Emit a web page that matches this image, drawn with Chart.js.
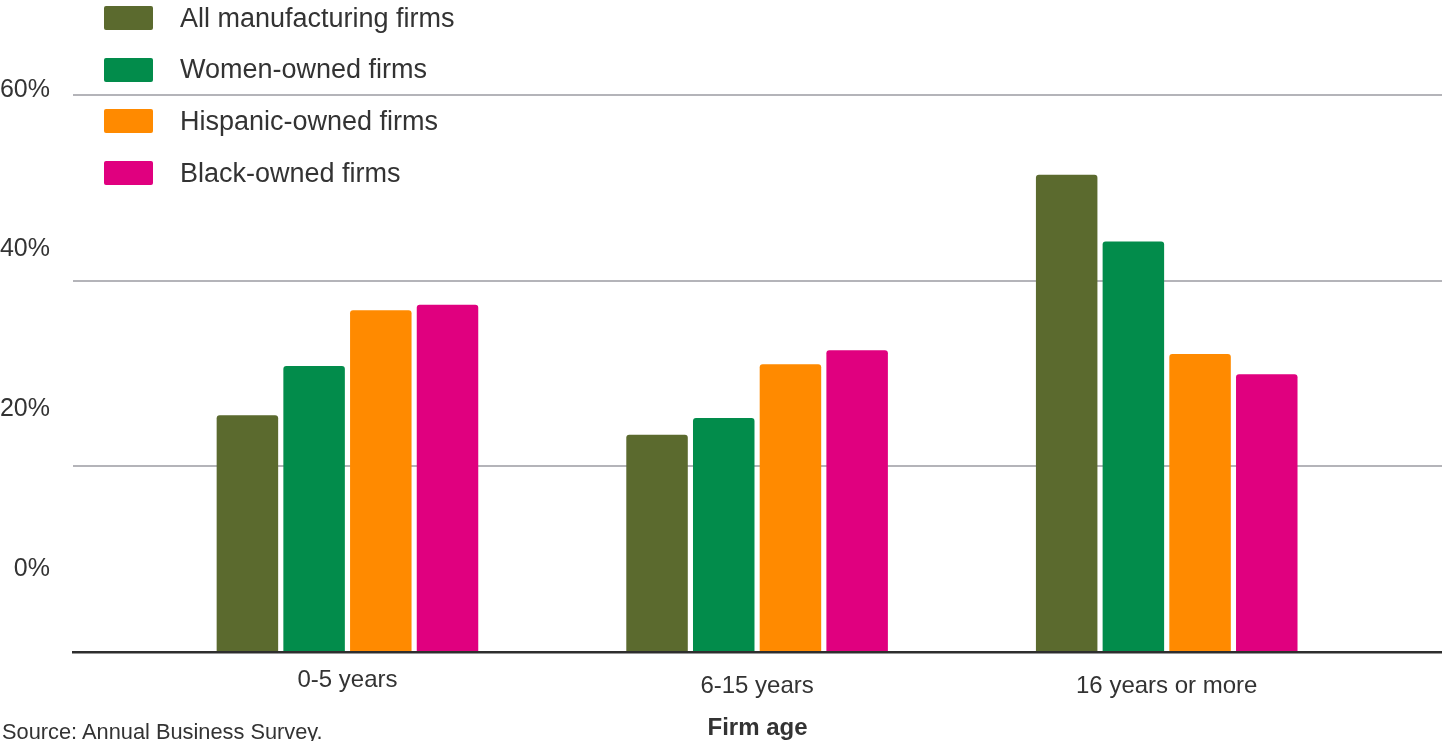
<!DOCTYPE html>
<html>
<head>
<meta charset="utf-8">
<script src="https://cdn.jsdelivr.net/npm/chart.js@4.4.1/dist/chart.umd.min.js"></script>
<style>
  html, body { margin: 0; padding: 0; background: #ffffff; overflow: hidden; }
  #wrap { position: relative; width: 1442px; height: 741px; }
  #c { position: absolute; left: 0; top: 0; }
  #legend { position: absolute; left: 104px; top: 6px; font-family: "Liberation Sans", Arial, Helvetica, sans-serif; font-size: 27px; color: #333333; }
  .item { position: absolute; left: 0; height: 24px; display: flex; align-items: center; white-space: nowrap; }
  .box { width: 49px; height: 24px; border-radius: 2px; margin-right: 27px; flex: none; }
  #source { position: absolute; left: 2px; top: 721px; font: 21.8px/22px "Liberation Sans", Arial, Helvetica, sans-serif; color: #333333; white-space: nowrap; }
</style>
</head>
<body>
<div id="wrap">
  <canvas id="c" width="1442" height="741"></canvas>
  <div id="legend"></div>
  <div id="source">Source: Annual Business Survey.</div>
</div>
<script>
// ---- Data ----
const categories = ['0-5 years', '6-15 years', '16 years or more'];
const seriesNames = ['All manufacturing firms', 'Women-owned firms', 'Hispanic-owned firms', 'Black-owned firms'];
const allManufacturing = [25.5, 23.4, 51.4];
const womenOwned = [30.8, 25.2, 44.2];
const hispanicOwned = [36.8, 31.0, 32.1];
const blackOwned = [37.4, 32.5, 29.9];
const yTickValues = [0, 20, 40, 60];
const axisTitle = 'Firm age';

// ---- Styles ----
const seriesColors = ['#5b6a2e', '#028c4b', '#ff8a00', '#e0007f'];
const FONT = '"Liberation Sans", Arial, Helvetica, sans-serif';
const TEXT = '#333333';
const X_MIN = -0.670, X_MAX = 2.672;

const seriesValues = [allManufacturing, womenOwned, hispanicOwned, blackOwned];

// HTML legend built from the series arrays
const legendEl = document.getElementById('legend');
seriesNames.forEach((name, i) => {
  const item = document.createElement('div');
  item.className = 'item';
  item.style.top = (i * 51.7) + 'px';
  const box = document.createElement('span');
  box.className = 'box';
  box.style.background = seriesColors[i];
  const txt = document.createElement('span');
  txt.textContent = name;
  item.appendChild(box);
  item.appendChild(txt);
  legendEl.appendChild(item);
});

const datasets = seriesNames.map((name, s) => ({
  label: name,
  data: seriesValues[s].map((v, i) => ({ x: i, y: v })),
  backgroundColor: seriesColors[s],
  borderRadius: { topLeft: 3, topRight: 3, bottomLeft: 0, bottomRight: 0 },
  categoryPercentage: 0.6513,
  barPercentage: 0.922,
  xAxisID: 'x',
  yAxisID: 'y'
}));

function noPadX(s, h) { s.height = h; s.paddingLeft = 0; s.paddingRight = 0; }
function noPadY(s, w) { s.width = w; s.paddingTop = 0; s.paddingBottom = 0; }

new Chart(document.getElementById('c'), {
  type: 'bar',
  data: { datasets },
  options: {
    responsive: false,
    animation: false,
    layout: { padding: { top: 2, left: 0, right: 0, bottom: 0 } },
    plugins: { legend: { display: false }, tooltip: { enabled: false } },
    scales: {
      x: {
        type: 'linear', position: 'bottom', weight: 1,
        min: X_MIN, max: X_MAX, offset: false,
        grid: { display: false, offset: false, drawTicks: false },
        border: { display: true, color: '#2e2e2e', width: 2.5, z: 1 },
        ticks: { padding: -42.5, mirror: true, autoSkip: false, maxRotation: 0, minRotation: 0, color: TEXT,
                 font: { family: FONT, size: 24 }, callback: v => categories[v] },
        afterBuildTicks: s => { s.ticks = [{ value: 0 }]; },
        afterFit: s => noPadX(s, 10)
      },
      x2: {
        type: 'linear', position: 'bottom', weight: 2,
        min: X_MIN, max: X_MAX, offset: false,
        grid: { display: false, offset: false, drawTicks: false },
        border: { display: false },
        ticks: { padding: 10, autoSkip: false, maxRotation: 0, minRotation: 0, color: TEXT,
                 font: { family: FONT, size: 24 }, callback: v => categories[v] },
        afterBuildTicks: s => { s.ticks = [{ value: 1 }, { value: 2 }]; },
        afterFit: s => noPadX(s, 79),
        title: { display: true, text: axisTitle, color: TEXT,
                 font: { family: FONT, size: 24, weight: 'bold', lineHeight: 1 },
                 padding: { top: 0, bottom: 1 } }
      },
      y: {
        type: 'linear', position: 'left', weight: 1,
        min: 0, max: 70,
        grid: { color: '#b4b4b9', lineWidth: 2, drawTicks: false },
        border: { display: false },
        ticks: { display: false },
        afterBuildTicks: s => { s.ticks = yTickValues.map(v => ({ value: v })); },
        afterFit: s => noPadY(s, 0)
      },
      yl: {
        type: 'linear', position: 'left', weight: 2,
        min: -10.44, max: 71.03,
        grid: { display: false, drawTicks: false },
        border: { display: false },
        ticks: { padding: 23, color: TEXT, font: { family: FONT, size: 25 }, callback: v => v + '%' },
        afterBuildTicks: s => { s.ticks = yTickValues.map(v => ({ value: v })); },
        afterFit: s => noPadY(s, 73)
      }
    }
  }
});
</script>
</body>
</html>
